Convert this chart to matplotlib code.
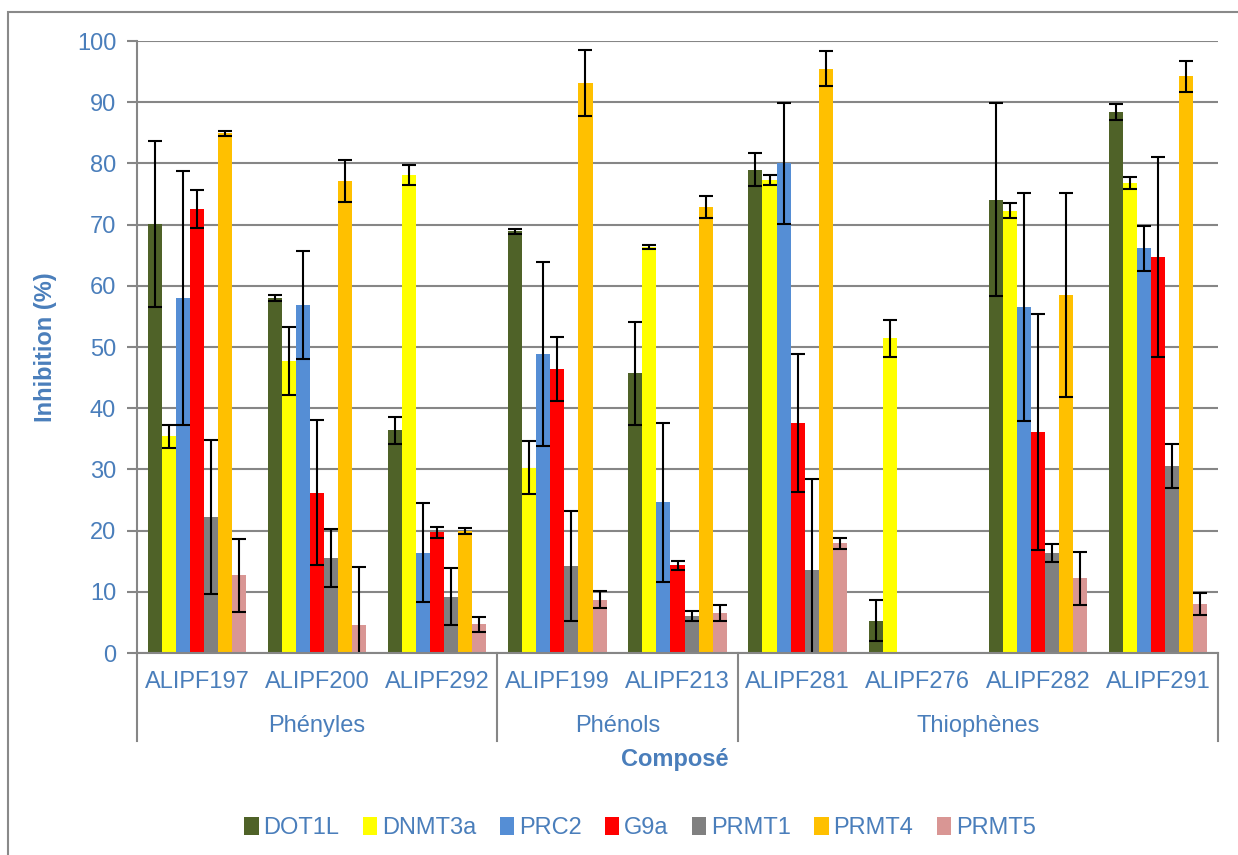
import numpy as np
import matplotlib.pyplot as plt
from matplotlib.patches import Rectangle

plt.rcParams["font.family"] = ["Liberation Sans", "DejaVu Sans"]

composes = ["ALIPF197", "ALIPF200", "ALIPF292", "ALIPF199", "ALIPF213",
            "ALIPF281", "ALIPF276", "ALIPF282", "ALIPF291"]
groupes = ["Phényles", "Phénols", "Thiophènes"]
taille_groupes = [3, 2, 4]
enzymes = ["DOT1L", "DNMT3a", "PRC2", "G9a", "PRMT1", "PRMT4", "PRMT5"]
couleurs = ["#4f6228", "#ffff00", "#558ed5", "#ff0000", "#808080", "#ffc000", "#d99694"]

dot1l = [70.1, 58.0, 36.4, 68.9, 45.7, 79.0, 5.3, 74.1, 88.4]
dnmt3a = [35.4, 47.7, 78.1, 30.3, 66.3, 77.3, 51.4, 72.3, 76.8]
prc2 = [58.0, 56.9, 16.4, 48.9, 24.6, 80.0, 0, 56.5, 66.1]
g9a = [72.5, 26.2, 19.7, 46.4, 14.3, 37.6, 0, 36.1, 64.7]
prmt1 = [22.2, 15.5, 9.2, 14.2, 6.0, 13.6, 0, 16.4, 30.5]
prmt4 = [84.9, 77.1, 20.0, 93.2, 72.8, 95.5, 0, 58.5, 94.2]
prmt5 = [12.7, 4.5, 4.7, 8.7, 6.5, 17.9, 0, 12.2, 8.0]

err_dot1l = [13.5, 0.55, 2.2, 0.4, 8.45, 2.65, 3.4, 15.75, 1.35]
err_dnmt3a = [1.9, 5.6, 1.6, 4.4, 0.3, 0.8, 3.0, 1.3, 1.0]
err_prc2 = [20.8, 8.8, 8.1, 15.0, 13.0, 9.85, 0, 18.6, 3.6]
err_g9a = [3.1, 11.8, 0.95, 5.3, 0.75, 11.3, 0, 19.3, 16.4]
err_prmt1 = [12.6, 4.7, 4.7, 8.95, 0.85, 14.8, 0, 1.45, 3.6]
err_prmt4 = [0.35, 3.45, 0.5, 5.4, 1.8, 2.9, 0, 16.7, 2.5]
err_prmt5 = [6.0, 9.5, 1.2, 1.35, 1.3, 0.9, 0, 4.3, 1.75]

valeurs = [dot1l, dnmt3a, prc2, g9a, prmt1, prmt4, prmt5]
erreurs = [err_dot1l, err_dnmt3a, err_prc2, err_g9a, err_prmt1, err_prmt4, err_prmt5]

bleu = "#4a7ebb"
gris = "#868686"
fs = 17

fig = plt.figure(figsize=(12.38, 8.55), dpi=100)
ax = fig.add_axes([137/1238, 1 - 653/855, 1081/1238, 612/855])
fig.patches.append(Rectangle((8/1238, -0.1), 1.2, 1 - 12/855 + 0.1, transform=fig.transFigure,
                             fill=False, edgecolor="#898989", linewidth=1.5))

x = np.arange(len(composes))
w = 0.117
for i, (nom, v, e, c) in enumerate(zip(enzymes, valeurs, erreurs, couleurs)):
    pos = x + (i - 3) * w
    ax.bar(pos, v, width=w, color=c, label=nom, zorder=3)
    e_aff = np.array(e, dtype=float)
    masque = e_aff > 0
    ax.errorbar(pos[masque], np.array(v)[masque], yerr=e_aff[masque], fmt="none",
                ecolor="black", elinewidth=1.5, capsize=5, capthick=1.5, zorder=4)

ax.set_xlim(-0.5, len(composes) - 0.5)
ax.set_ylim(0, 100)
ax.set_yticks(np.arange(0, 101, 10))
ax.yaxis.grid(True, color=gris, linewidth=1.5, zorder=0)
ax.tick_params(axis="y", colors=gris, labelcolor=bleu, labelsize=fs, length=7, width=1.5, pad=8)
ax.set_xticks([])
for s in ["top", "right"]:
    ax.spines[s].set_visible(False)
for s in ["left", "bottom"]:
    ax.spines[s].set_color(gris)
    ax.spines[s].set_linewidth(1.5)
ax.spines["bottom"].set_zorder(5)

# etiquettes des composes et des groupes
for xi, nom in zip(x, composes):
    ax.text(xi, -4.7, nom, ha="center", va="center", color=bleu, fontsize=fs, clip_on=False)
debut = -0.5
bords = [debut]
for g, n in zip(groupes, taille_groupes):
    fin = debut + n
    ax.text((debut + fin) / 2, -12.0, g, ha="center", va="center", color=bleu, fontsize=fs,
            clip_on=False)
    bords.append(fin)
    debut = fin
for b in bords:
    ax.plot([b, b], [0, -14.4], color=gris, linewidth=1.5, clip_on=False)

ax.text(0.5 * (len(composes) - 1) - 0.02, -17.4, "Composé", ha="center", va="center",
        color=bleu, fontsize=fs, fontweight="bold", clip_on=False)
ax.set_ylabel("Inhibition (%)", color=bleu, fontsize=fs, fontweight="bold", labelpad=14)

fig.legend(loc="center", bbox_to_anchor=(640/1238, 1 - 828/855), ncol=7, frameon=False,
           fontsize=fs, labelcolor=bleu, handlelength=0.6, handleheight=0.8,
           handletextpad=0.2, columnspacing=1.0)

fig.savefig("out.png", dpi=100)
